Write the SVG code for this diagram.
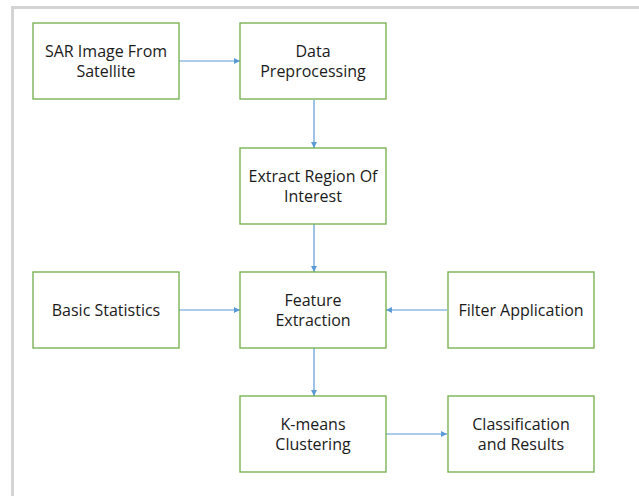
<svg xmlns="http://www.w3.org/2000/svg" width="639" height="496" viewBox="0 0 639 496">
<defs>
<marker id="ah" viewBox="0 0 6 6" refX="6" refY="3" markerWidth="6" markerHeight="6" markerUnits="userSpaceOnUse" orient="auto">
<path d="M0,0 L6,3 L0,6 z" fill="#5b9bd5"/>
</marker>
<style>
.box{fill:#ffffff;stroke:#70ad47;stroke-width:1.3}
.t{font-family:"Open Sans","Liberation Sans",sans-serif;font-size:16px;fill:#1a1a1a;text-anchor:middle}
.c{stroke:#5b9bd5;stroke-width:1.2;fill:none;marker-end:url(#ah)}
.frame{stroke:#d4d4d4;stroke-width:3;fill:none}
</style>
</defs>
<rect width="639" height="496" fill="#ffffff"/>
<path class="frame" d="M12.5,496 V7.5 H639"/>
<g id="connectors">
<line class="c" x1="179" y1="61" x2="240" y2="61"/>
<line class="c" x1="314" y1="100" x2="314" y2="148"/>
<line class="c" x1="314" y1="224" x2="314" y2="272"/>
<line class="c" x1="179" y1="310" x2="240" y2="310"/>
<line class="c" x1="447" y1="310" x2="386" y2="310"/>
<line class="c" x1="314" y1="348" x2="314" y2="396"/>
<line class="c" x1="386" y1="434" x2="447" y2="434"/>
</g>
<g id="sar"><rect class="box" x="33" y="23" width="146" height="76"/><text class="t" x="106" y="57">SAR Image From</text><text class="t" x="106" y="77">Satellite</text></g>
<g id="preprocess"><rect class="box" x="240" y="23" width="146" height="76"/><text class="t" x="313" y="57">Data</text><text class="t" x="313" y="77">Preprocessing</text></g>
<g id="roi"><rect class="box" x="240" y="148" width="146" height="76"/><text class="t" x="313" y="182">Extract Region Of</text><text class="t" x="313" y="202">Interest</text></g>
<g id="basic"><rect class="box" x="33" y="272" width="146" height="76"/><text class="t" x="106" y="316">Basic Statistics</text></g>
<g id="feature"><rect class="box" x="240" y="272" width="146" height="76"/><text class="t" x="313" y="306">Feature</text><text class="t" x="313" y="326">Extraction</text></g>
<g id="filter"><rect class="box" x="448" y="272" width="146" height="76"/><text class="t" x="521" y="316">Filter Application</text></g>
<g id="kmeans"><rect class="box" x="240" y="396" width="146" height="76"/><text class="t" x="313" y="430">K-means</text><text class="t" x="313" y="450">Clustering</text></g>
<g id="classification"><rect class="box" x="448" y="396" width="146" height="76"/><text class="t" x="521" y="430">Classification</text><text class="t" x="521" y="450">and Results</text></g>
</svg>
